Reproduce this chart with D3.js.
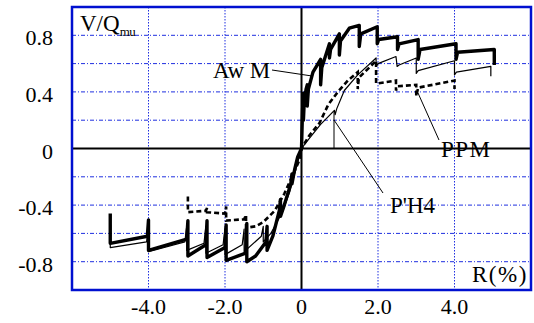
<!DOCTYPE html>
<html><head><meta charset="utf-8">
<script src="https://cdn.jsdelivr.net/npm/d3@7"></script>
<style>body{margin:0;background:#fff}svg{display:block}text{font-family:'Liberation Serif','Times New Roman',serif}</style>
</head><body>
<script>
// ---- data ----
const xTickValues = [-4, -2, 0, 2, 4];
const xTickLabels = ["-4.0", "-2.0", "0", "2.0", "4.0"];
const yTickValues = [-0.8, -0.4, 0, 0.4, 0.8];
const yTickLabels = ["-0.8", "-0.4", "0", "0.4", "0.8"];
const xGridValues = [-4, -2, 2, 4];
const yGridValues = [-0.8, -0.6, -0.4, -0.2, 0.2, 0.4, 0.6, 0.8];

const awmPos = [[0,0],[0.02,0.2],[0.04,0.37],[0.05,0.39],[0.05,0.2],[0.07,0.32],[0.12,0.42],[0.15,0.45],[0.15,0.3],[0.18,0.42],[0.3,0.54],[0.5,0.63],[0.5,0.45],[0.53,0.57],[0.73,0.74],[0.73,0.64],[0.76,0.7],[0.99,0.81],[0.99,0.66],[1.02,0.76],[1.25,0.85],[1.51,0.87],[1.51,0.72],[1.55,0.81],[1.98,0.86],[1.98,0.74],[2.02,0.77],[2.51,0.79],[2.51,0.7],[2.55,0.74],[3.05,0.77],[3.05,0.63],[3.1,0.7],[4.04,0.74],[4.04,0.63],[4.08,0.68],[5.04,0.7],[5.04,0.59]];
const awmNeg = [[0,0],[-0.1,-0.06],[-0.18,-0.15],[-0.25,-0.25],[-0.25,-0.18],[-0.28,-0.25],[-0.45,-0.4],[-0.55,-0.48],[-0.55,-0.36],[-0.58,-0.44],[-0.75,-0.62],[-0.9,-0.72],[-0.9,-0.55],[-0.93,-0.66],[-1.2,-0.76],[-1.43,-0.8],[-1.43,-0.53],[-1.46,-0.74],[-1.97,-0.79],[-1.97,-0.54],[-2.0,-0.7],[-2.47,-0.77],[-2.47,-0.51],[-2.5,-0.68],[-2.97,-0.76],[-2.97,-0.51],[-3.0,-0.64],[-4,-0.72],[-4,-0.505],[-4.03,-0.62],[-5,-0.67],[-5,-0.46]];

const ph4Pos = [[0,0],[0.2,0.07],[0.5,0.17],[0.86,0.27],[0.88,0.24],[0.92,0.28],[1.12,0.41],[1.47,0.52],[1.95,0.64],[1.95,0.58],[2.0,0.6],[2.47,0.65],[2.5,0.58],[2.55,0.59],[3.0,0.64],[3.0,0.53],[3.05,0.55],[4.0,0.62],[4.0,0.52],[4.05,0.54],[4.95,0.58],[4.95,0.51]];
const ph4Neg = [[0,0],[-0.1,-0.1],[-0.3,-0.3],[-0.5,-0.45],[-0.8,-0.6],[-1.0,-0.66],[-1.0,-0.55],[-1.05,-0.62],[-1.5,-0.73],[-1.5,-0.57],[-1.55,-0.68],[-2,-0.75],[-2,-0.56],[-2.05,-0.68],[-2.5,-0.74],[-2.5,-0.55],[-2.55,-0.67],[-3,-0.72],[-3,-0.55],[-3.05,-0.66],[-4,-0.73],[-4,-0.55],[-4.05,-0.66],[-5,-0.7],[-5,-0.5]];

const ppmPos = [[0,0],[0.2,0.09],[0.47,0.18],[0.7,0.31],[0.95,0.4],[1.21,0.48],[1.47,0.54],[1.47,0.42],[1.5,0.5],[1.95,0.62],[1.95,0.46],[2.0,0.46],[2.47,0.48],[2.47,0.41],[2.52,0.44],[3.0,0.45],[3.0,0.37],[3.05,0.43],[4.0,0.48],[4.0,0.42]];
const ppmNeg = [[0,0],[-0.05,-0.08],[-0.25,-0.2],[-0.45,-0.32],[-0.7,-0.44],[-1.0,-0.52],[-1.2,-0.55],[-1.45,-0.56],[-1.45,-0.47],[-1.5,-0.5],[-1.97,-0.51],[-1.97,-0.41],[-2.0,-0.46],[-2.47,-0.45],[-2.47,-0.42],[-2.5,-0.44],[-2.97,-0.45],[-2.97,-0.34]];

const seriesNames = ["Aw M", "P'H4", "PPM"];

// ---- chart ----
const W = 534, H = 323;
const svg = d3.select("body").append("svg").attr("width", W).attr("height", H);
const x = d3.scaleLinear().domain([-6, 6]).range([72, 531]);
const y = d3.scaleLinear().domain([-1, 1]).range([290, 7]);
const font = "'Liberation Serif','Times New Roman',serif";
const gridColor = "#1f2fe0";

// grid
svg.append("g").selectAll("line").data(yGridValues).join("line")
  .attr("x1", x(-6)).attr("x2", x(6)).attr("y1", d => y(d)).attr("y2", d => y(d))
  .attr("stroke", gridColor).attr("stroke-width", 1).attr("stroke-dasharray", "4,2,1,2");
svg.append("g").selectAll("line").data(xGridValues).join("line")
  .attr("y1", y(1)).attr("y2", y(-1)).attr("x1", d => x(d)).attr("x2", d => x(d))
  .attr("stroke", gridColor).attr("stroke-width", 1).attr("stroke-dasharray", "1.5,1.5");

// zero lines
svg.append("line").attr("x1", x(-6)).attr("x2", x(6)).attr("y1", y(0)).attr("y2", y(0))
  .attr("stroke", "#000").attr("stroke-width", 2);
svg.append("line").attr("x1", x(0)).attr("x2", x(0)).attr("y1", y(1)).attr("y2", y(-1))
  .attr("stroke", "#000").attr("stroke-width", 2);

// curves
const line = d3.line().x(d => x(d[0])).y(d => y(d[1]));
const full = (neg, pos) => neg.slice().reverse().concat(pos.slice(1));
svg.append("path").datum(full(ph4Neg, ph4Pos)).attr("d", line)
  .attr("fill", "none").attr("stroke", "#000").attr("stroke-width", 1.2).attr("stroke-linejoin", "round");
svg.append("path").datum(full(ppmNeg, ppmPos)).attr("d", line)
  .attr("fill", "none").attr("stroke", "#000").attr("stroke-width", 2.6).attr("stroke-dasharray", "5,3");
svg.append("path").datum(full(awmNeg, awmPos)).attr("d", line)
  .attr("fill", "none").attr("stroke", "#000").attr("stroke-width", 3.4).attr("stroke-linejoin", "round");

// frame
svg.append("rect").attr("x", x(-6)).attr("y", y(1)).attr("width", x(6) - x(-6)).attr("height", y(-1) - y(1))
  .attr("fill", "none").attr("stroke", "#0010d0").attr("stroke-width", 2.5);

// tick labels
svg.append("g").selectAll("text").data(xTickValues).join("text")
  .attr("x", d => x(d)).attr("y", 314).attr("text-anchor", "middle")
  .attr("font-family", font).attr("font-size", 22).attr("fill", "#000")
  .text((d, i) => xTickLabels[i]);
svg.append("g").selectAll("text").data(yTickValues).join("text")
  .attr("x", 53).attr("y", d => y(d) + 10).attr("text-anchor", "end")
  .attr("font-family", font).attr("font-size", 22).attr("fill", "#000")
  .text((d, i) => yTickLabels[i]);

// annotations
const ann = svg.append("g").attr("font-family", font).attr("fill", "#000");
const t1 = ann.append("text").attr("x", 80).attr("y", 31).attr("font-size", 23);
t1.append("tspan").text("V/Q");
t1.append("tspan").attr("font-size", 13).attr("dy", 5).attr("letter-spacing", -0.5).text("mu");
ann.append("text").attr("x", 213).attr("y", 78).attr("font-size", 23).text(seriesNames[0]);
ann.append("text").attr("x", 390).attr("y", 213).attr("font-size", 23).text(seriesNames[1]);
ann.append("text").attr("x", 441).attr("y", 157).attr("font-size", 23).attr("letter-spacing", 1.5).text(seriesNames[2]);
ann.append("text").attr("x", 472).attr("y", 282).attr("font-size", 23).attr("letter-spacing", 1.5).text("R(%)");

// leader lines
const leaders = [[[272,70],[312,76]], [[334,112],[334,149]], [[334,120],[383,193]], [[418,93],[439,140]]];
svg.append("g").selectAll("path").data(leaders).join("path")
  .attr("d", d => d3.line()(d)).attr("stroke", "#000").attr("stroke-width", 1).attr("fill", "none");
</script>
</body></html>
